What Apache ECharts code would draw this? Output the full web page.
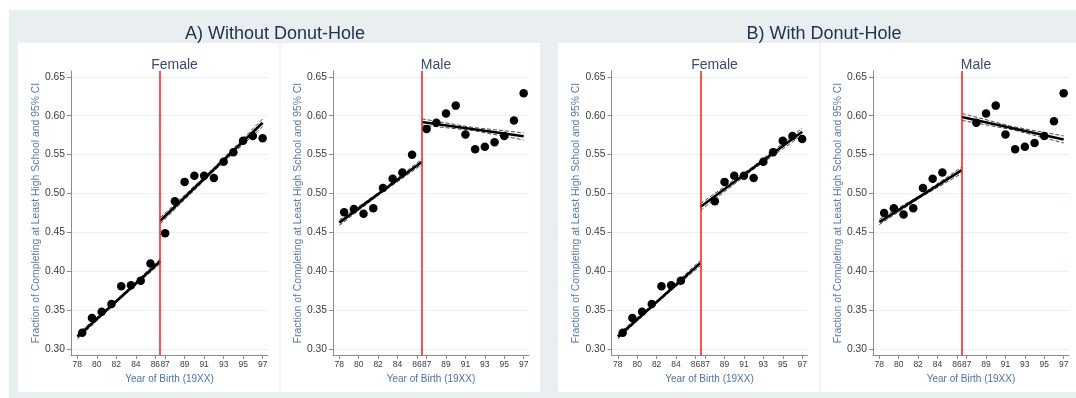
<!DOCTYPE html>
<html><head><meta charset="utf-8">
<script src="https://cdn.jsdelivr.net/npm/echarts@6/dist/echarts.min.js"></script>
<style>html,body{margin:0;padding:0;background:#fff}#c{width:1076px;height:398px}</style>
</head><body><div id="c"></div>
<script>
// ---- tick labels / categories ----
const xTicks = [78, 80, 82, 84, 86, 87, 89, 91, 93, 95, 97];
const yTicks = [0.30, 0.35, 0.40, 0.45, 0.50, 0.55, 0.60, 0.65];
const cutoff = 86.5;
const panelTitles = ['A) Without Donut-Hole', 'B) With Donut-Hole'];
const sexTitles = ['Female', 'Male', 'Female', 'Male'];
const xName = 'Year of Birth (19XX)';
const yName = 'Fraction of Completing at Least High School and 95% CI';

// ---- years of the binned points ----
const yearsPreA  = [78.5, 79.5, 80.5, 81.5, 82.5, 83.5, 84.5, 85.5];
const yearsPostA = [87, 88, 89, 90, 91, 92, 93, 94, 95, 96, 97];
const yearsPreB  = [78.5, 79.5, 80.5, 81.5, 82.5, 83.5, 84.5];
const yearsPostB = [88, 89, 90, 91, 92, 93, 94, 95, 96, 97];

// ---- binned means ----
const femaleA_pre  = [0.321, 0.340, 0.348, 0.358, 0.381, 0.382, 0.388, 0.410];
const femaleA_post = [0.449, 0.490, 0.515, 0.523, 0.523, 0.520, 0.541, 0.553, 0.568, 0.574, 0.571];
const maleA_pre    = [0.476, 0.480, 0.474, 0.481, 0.507, 0.519, 0.527, 0.550];
const maleA_post   = [0.583, 0.591, 0.603, 0.613, 0.576, 0.557, 0.560, 0.566, 0.574, 0.594, 0.629];
const femaleB_pre  = [0.321, 0.340, 0.348, 0.358, 0.381, 0.382, 0.388];
const femaleB_post = [0.490, 0.515, 0.523, 0.523, 0.520, 0.541, 0.553, 0.568, 0.574, 0.570];
const maleB_pre    = [0.475, 0.481, 0.473, 0.481, 0.507, 0.519, 0.527];
const maleB_post   = [0.591, 0.603, 0.613, 0.576, 0.557, 0.560, 0.565, 0.574, 0.593, 0.629];

// ---- fitted lines (endpoints) ----
const fitPreX  = [78, 86.5];
const fitPostX = [86.5, 97];
const femaleA_fitPre  = [0.316, 0.413];
const femaleA_fitPost = [0.465, 0.591];
const maleA_fitPre    = [0.4626, 0.5406];
const maleA_fitPost   = [0.592, 0.5737];
const femaleB_fitPre  = [0.316, 0.4106];
const femaleB_fitPost = [0.4827, 0.5795];
const maleB_fitPre    = [0.4634, 0.530];
const maleB_fitPost   = [0.5985, 0.5694];

// ---- 95% CI (start, middle, end) ----
const ciPreX  = [78, 82.25, 86.5];
const ciPostX = [86.5, 91.75, 97];
const femaleA_ciPreLo  = [0.313, 0.363, 0.410];
const femaleA_ciPreHi  = [0.319, 0.366, 0.416];
const femaleA_ciPostLo = [0.461, 0.526, 0.586];
const femaleA_ciPostHi = [0.469, 0.530, 0.596];
const maleA_ciPreLo    = [0.459, 0.500, 0.537];
const maleA_ciPreHi    = [0.466, 0.503, 0.544];
const maleA_ciPostLo   = [0.588, 0.581, 0.569];
const maleA_ciPostHi   = [0.596, 0.585, 0.578];
const femaleB_ciPreLo  = [0.313, 0.362, 0.407];
const femaleB_ciPreHi  = [0.319, 0.365, 0.414];
const femaleB_ciPostLo = [0.478, 0.529, 0.575];
const femaleB_ciPostHi = [0.487, 0.533, 0.584];
const maleB_ciPreLo    = [0.460, 0.495, 0.526];
const maleB_ciPreHi    = [0.467, 0.498, 0.534];
const maleB_ciPostLo   = [0.594, 0.582, 0.565];
const maleB_ciPostHi   = [0.603, 0.586, 0.574];

const panels = [
  {left: 71,    width: 197, yPre: yearsPreA, yPost: yearsPostA, pre: femaleA_pre, post: femaleA_post,
   fPre: femaleA_fitPre, fPost: femaleA_fitPost, ciPL: femaleA_ciPreLo, ciPH: femaleA_ciPreHi, ciQL: femaleA_ciPostLo, ciQH: femaleA_ciPostHi},
  {left: 333,   width: 196, yPre: yearsPreA, yPost: yearsPostA, pre: maleA_pre, post: maleA_post,
   fPre: maleA_fitPre, fPost: maleA_fitPost, ciPL: maleA_ciPreLo, ciPH: maleA_ciPreHi, ciQL: maleA_ciPostLo, ciQH: maleA_ciPostHi},
  {left: 611.5, width: 196, yPre: yearsPreB, yPost: yearsPostB, pre: femaleB_pre, post: femaleB_post,
   fPre: femaleB_fitPre, fPost: femaleB_fitPost, ciPL: femaleB_ciPreLo, ciPH: femaleB_ciPreHi, ciQL: femaleB_ciPostLo, ciQH: femaleB_ciPostHi},
  {left: 873,   width: 196, yPre: yearsPreB, yPost: yearsPostB, pre: maleB_pre, post: maleB_post,
   fPre: maleB_fitPre, fPost: maleB_fitPost, ciPL: maleB_ciPreLo, ciPH: maleB_ciPreHi, ciQL: maleB_ciPostLo, ciQH: maleB_ciPostHi}
];

const FONT = "'Liberation Sans', Arial, Helvetica, sans-serif";
const zip = (xs, ys) => xs.map((x, i) => [x, ys[i]]);
const grids = [], xAxes = [], yAxes = [], series = [], titles = [];

titles.push({text: panelTitles[0], left: 270, top: 20, textAlign: 'center',
  textStyle: {fontFamily: FONT, fontSize: 18, fontWeight: 'normal', color: '#24324f'}});
titles.push({text: panelTitles[1], left: 819, top: 20, textAlign: 'center',
  textStyle: {fontFamily: FONT, fontSize: 18, fontWeight: 'normal', color: '#24324f'}});

panels.forEach((p, i) => {
  grids.push({left: p.left, top: 71, width: p.width, height: 284});
  titles.push({text: sexTitles[i], left: p.left + p.width / 2, top: 53, textAlign: 'center',
    textStyle: {fontFamily: FONT, fontSize: 14, fontWeight: 'normal', color: '#3a4a6e'}});
  xAxes.push({
    type: 'value', gridIndex: i, min: 77.35, max: 97.55,
    name: xName, nameLocation: 'middle', nameGap: 14,
    nameTextStyle: {fontFamily: FONT, fontSize: 10, color: '#4f73a3'},
    axisLine: {show: true, onZero: false, lineStyle: {color: '#8c8c8c', width: 1}},
    axisTick: {show: true, length: 4, customValues: xTicks, lineStyle: {color: '#8c8c8c'}},
    axisLabel: {customValues: xTicks, margin: 5, fontFamily: FONT, fontSize: 8.5, color: '#3c3c3c'},
    splitLine: {show: false}
  });
  yAxes.push({
    type: 'value', gridIndex: i, min: 0.2925, max: 0.6575,
    name: yName, nameLocation: 'middle', nameRotate: 90, nameGap: 30,
    nameTextStyle: {fontFamily: FONT, fontSize: 10.4, color: '#5a7aa6'},
    axisLine: {show: true, onZero: false, lineStyle: {color: '#8c8c8c', width: 1}},
    axisTick: {show: true, length: 4, customValues: yTicks, lineStyle: {color: '#8c8c8c'}},
    axisLabel: {customValues: yTicks, margin: 6, fontFamily: FONT, fontSize: 10.3, color: '#3c3c3c',
      formatter: v => v.toFixed(2)},
    splitLine: {show: true, lineStyle: {color: '#e9f1f1', width: 1}}
  });
  const base = {xAxisIndex: i, yAxisIndex: i, animation: false, silent: true};
  const fit = (d) => Object.assign({}, base, {type: 'line', data: d, symbol: 'none', z: 4,
    lineStyle: {color: '#000', width: 2.6}});
  const ci = (d) => Object.assign({}, base, {type: 'line', data: d, symbol: 'none', z: 3,
    lineStyle: {color: '#4a4a4a', width: 1, type: [4, 2]}});
  const sc = (d) => Object.assign({}, base, {type: 'scatter', data: d, symbol: 'circle', symbolSize: 8.5, z: 5,
    itemStyle: {color: '#000', opacity: 1}});
  const fpre = fit(zip(fitPreX, p.fPre));
  fpre.markLine = {symbol: ['none', 'none'], silent: true, label: {show: false}, animation: false,
    lineStyle: {color: '#ff1a1a', width: 1.5, type: 'solid'}, data: [{xAxis: cutoff}]};
  series.push(ci(zip(ciPreX, p.ciPL)), ci(zip(ciPreX, p.ciPH)), ci(zip(ciPostX, p.ciQL)), ci(zip(ciPostX, p.ciQH)));
  series.push(fpre, fit(zip(fitPostX, p.fPost)));
  series.push(sc(zip(p.yPre, p.pre)), sc(zip(p.yPost, p.post)));
});

const bg = '#e9eff1';
const graphic = [
  {type: 'rect', shape: {x: 9, y: 10, width: 1067, height: 388}, style: {fill: bg}, z: -100},
  {type: 'rect', shape: {x: 18, y: 43, width: 261.5, height: 349}, style: {fill: '#fff'}, z: -99},
  {type: 'rect', shape: {x: 280.5, y: 43, width: 259.5, height: 349}, style: {fill: '#fff'}, z: -99},
  {type: 'rect', shape: {x: 558, y: 43, width: 261.5, height: 349}, style: {fill: '#fff'}, z: -99},
  {type: 'rect', shape: {x: 820.5, y: 43, width: 255.5, height: 349}, style: {fill: '#fff'}, z: -99},
  {type: 'rect', shape: {x: 279.5, y: 43, width: 1, height: 349}, style: {fill: '#f0f4f5'}, z: -99},
  {type: 'rect', shape: {x: 819.5, y: 43, width: 1, height: 349}, style: {fill: '#f0f4f5'}, z: -99}
];

const chart = echarts.init(document.getElementById('c'), null, {renderer: 'canvas'});
chart.setOption({
  animation: false,
  backgroundColor: '#fff',
  graphic: graphic,
  title: titles,
  grid: grids,
  xAxis: xAxes,
  yAxis: yAxes,
  series: series
});
</script>
</body></html>
